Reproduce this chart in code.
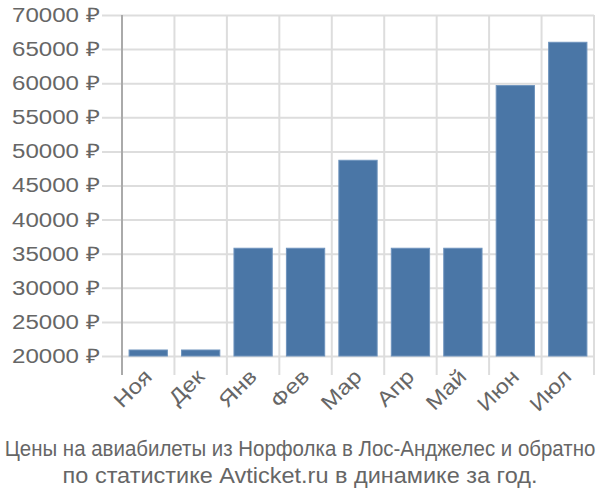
<!DOCTYPE html>
<html>
<head>
<meta charset="utf-8">
<script src="https://cdn.jsdelivr.net/npm/d3@7"></script>
<style>
  body { margin: 0; background: #fff; }
  text { font-family: 'Liberation Sans', Arial, sans-serif; fill: #666; }
</style>
</head>
<body>
<div id="chart"></div>
<script>
const months = ['Ноя', 'Дек', 'Янв', 'Фев', 'Мар', 'Апр', 'Май', 'Июн', 'Июл']
const prices = [20880, 20880, 35800, 35800, 48700, 35800, 35800, 59650, 66000]
const yTicks = [20000, 25000, 30000, 35000, 40000, 45000, 50000, 55000, 60000, 65000, 70000]
const titleLines = [
  'Цены на авиабилеты из Норфолка в Лос-Анджелес и обратно',
  'по статистике Avticket.ru в динамике за год.'
]

const margin = { top: 15, right: 6, bottom: 144, left: 122 }
const width = 600 - margin.left - margin.right
const height = 500 - margin.top - margin.bottom

const svg = d3
  .select('#chart')
  .append('svg')
  .attr('width', 600)
  .attr('height', 500)

const g = svg
  .append('g')
  .attr('transform', 'translate(' + margin.left + ',' + margin.top + ')')

const xPositionScale = d3
  .scaleBand()
  .domain(months)
  .range([0, width])
  .paddingInner(0.27)
  .paddingOuter(0.135)

const yPositionScale = d3
  .scaleLinear()
  .domain([20000, 70000])
  .range([height, 0])

// horizontal grid lines + y labels
const yAxis = d3
  .axisLeft(yPositionScale)
  .tickValues(yTicks)
  .tickSize(20)
  .tickPadding(2)
  .tickFormat(d => d + ' ₽')

g.append('g')
  .attr('class', 'y-axis')
  .call(yAxis)
  .call(a => a.select('.domain').remove())
  .call(a => a.selectAll('line')
    .attr('x2', width)
    .attr('x1', -20)
    .attr('stroke', '#ddd')
    .attr('stroke-width', 2))
  .call(a => a.selectAll('text')
    .attr('font-size', 20)
    .attr('textLength', 88)
    .attr('lengthAdjust', 'spacingAndGlyphs'))

// vertical grid lines at band edges
const edges = months.map(m => xPositionScale(m) - xPositionScale.step() * xPositionScale.paddingInner() / 2)
edges.push(width)
g.selectAll('.vgrid')
  .data(edges)
  .enter()
  .append('line')
  .attr('class', 'vgrid')
  .attr('x1', d => d)
  .attr('x2', d => d)
  .attr('y1', 0)
  .attr('y2', height + 19)
  .attr('stroke', (d, i) => (i === 0 ? '#aaa' : '#ddd'))
  .attr('stroke-width', 2)

g.selectAll('rect')
  .data(prices)
  .enter()
  .append('rect')
  .attr('x', (d, i) => xPositionScale(months[i]))
  .attr('width', xPositionScale.bandwidth())
  .attr('y', d => yPositionScale(d))
  .attr('height', d => height - yPositionScale(d))
  .attr('fill', '#4a76a6')
  .attr('stroke', '#6e93bd')
  .attr('stroke-width', 1)

// x labels
g.selectAll('.x-label')
  .data(months)
  .enter()
  .append('text')
  .attr('class', 'x-label')
  .attr('text-anchor', 'end')
  .attr('font-size', 21)
  .attr('transform', d => {
    const x = xPositionScale(d) + xPositionScale.bandwidth() / 2 + 5
    return 'translate(' + x + ',' + (height + 22) + ') rotate(-45) scale(1.15,1)'
  })
  .text(d => d)

// title, squeezed horizontally to the reference width
const lineWidths = [591, 475]
svg.selectAll('.title')
  .data(titleLines)
  .enter()
  .append('text')
  .attr('class', 'title')
  .attr('text-anchor', 'middle')
  .attr('font-size', 22)
  .text(d => d)
  .attr('transform', function (d, i) {
    const k = lineWidths[i] / this.getComputedTextLength()
    return 'translate(300,' + (456 + i * 27) + ') scale(' + k + ',1)'
  })
</script>
</body>
</html>
